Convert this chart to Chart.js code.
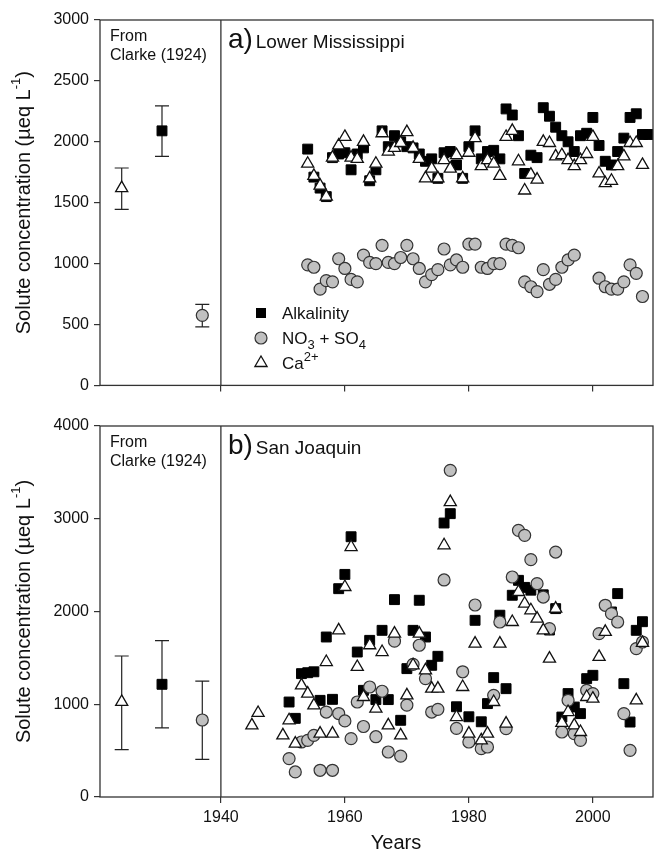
<!DOCTYPE html>
<html lang="en">
<head>
    <meta charset="UTF-8">
    <title>Solute concentration - Lower Mississippi and San Joaquin</title>
    <script src="https://cdn.jsdelivr.net/npm/chart.js"></script>
    <style>
        body {
            margin: 0;
            padding: 0;
            background-color: #fff;
        }

        .panel {
            position: absolute;
            left: 0;
        }

        #panelA { top: 0; }
        #panelB { top: 400px; }
    </style>
</head>
<body>

    <canvas id="panelA" class="panel" width="654" height="400"></canvas>
    <canvas id="panelB" class="panel" width="654" height="454"></canvas>

    <script>
        // ---- data, panel a (Lower Mississippi) ----
        const yearsA = [1954, 1955, 1956, 1957, 1958, 1959, 1960, 1961, 1962, 1963,
                        1964, 1965, 1966, 1967, 1968, 1969, 1970, 1971, 1972, 1973,
                        1974, 1975, 1976, 1977, 1978, 1979, 1980, 1981, 1982, 1983,
                        1984, 1985, 1986, 1987, 1988, 1989, 1990, 1991, 1992, 1993,
                        1994, 1995, 1996, 1997, 1998, 1999, 2000, 2001, 2002, 2003,
                        2004, 2005, 2006, 2007, 2008, 2009];
        const alkalinityA = [1940, 1710, 1620, 1550, 1870, 1900, 1910, 1770, 1900, 1950,
                             1680, 1770, 2090, 1960, 2050, 2000, 1960, 1950, 1900, 1840,
                             1860, 1700, 1910, 1920, 1810, 1700, 1960, 2090, 1860, 1920,
                             1930, 1860, 2270, 2220, 2050, 1740, 1890, 1870, 2280, 2210,
                             2120, 2050, 2000, 1920, 2050, 2070, 2200, 1970, 1840, 1810,
                             1920, 2030, 2200, 2230, 2060, 2060];
        const no3so4A = [990, 970, 790, 860, 850, 1040, 960, 870, 850, 1070,
                         1010, 1000, 1150, 1010, 1000, 1050, 1150, 1040, 960, 850,
                         910, 950, 1120, 990, 1030, 970, 1160, 1160, 970, 960,
                         1000, 1000, 1160, 1150, 1130, 850, 810, 770, 950, 830,
                         870, 970, 1030, 1070, null, null, null, 880, 810, 790,
                         790, 850, 990, 920, 730, null];
        const calciumA = [1820, 1720, 1640, 1550, 1870, 1970, 2040, 1870, 1860, 2000,
                          1700, 1820, 2070, 1920, 1950, 1990, 2080, 1950, 1860, 1700,
                          1780, 1700, 1850, 1780, 1890, 1700, 1910, 2030, 1800, 1850,
                          1820, 1720, 2040, 2090, 1840, 1600, 1730, 1690, 2000, 1990,
                          1880, 1890, 1850, 1800, 1850, 1900, 2040, 1740, 1660, 1680,
                          1800, 1880, 1990, 1990, 1810, null];

        // ---- data, panel b (San Joaquin) ----
        const yearsB = [1945, 1946, 1947, 1948, 1949, 1950, 1951, 1952, 1953, 1954,
                        1955, 1956, 1957, 1958, 1959, 1960, 1961, 1962, 1963, 1964,
                        1965, 1966, 1967, 1968, 1969, 1970, 1971, 1972, 1973, 1974,
                        1975, 1976, 1977, 1978, 1979, 1980, 1981, 1982, 1983, 1984,
                        1985, 1986, 1987, 1988, 1989, 1990, 1991, 1992, 1993, 1994,
                        1995, 1996, 1997, 1998, 1999, 2000, 2001, 2002, 2003, 2004,
                        2005, 2006, 2007, 2008, 2009];
        const alkalinityB = [null, null, null, null, null, null, 1024, 848, 1330, 1340,
                             1350, 1042, 1725, 1053, 2246, 2400, 2806, 1563, 1150, 1689,
                             1050, 1797, 1050, 2128, 827, 1384, 1797, 2121, 1725, 1420,
                             1517, 2954, 3055, 973, null, 865, 1905, 811, 1007, 1287,
                             1960, 1168, 2175, 2336, 2260, 2230, null, 2180, 1800, 2031,
                             862, 1115, 970, 899, 1276, 1312, null, null, 1995, 2193,
                             1222, 808, 1797, 1890, null];
        const no3so4B = [null, null, null, null, null, null, 414, 270, 593, 611,
                         665, 288, 916, 288, 900, 820, 629, 1024, 760, 1186,
                         650, 1140, 485, 1680, 440, 990, 1430, 1636, 1277, 916,
                         945, 2340, 3522, 740, 1350, 593, 2070, 521, 539, 1096,
                         1887, 737, 2372, 2875, 2821, 2559, 2300, 2156, 1815, 2641,
                         701, 1042, 683, 611, 1150, 1115, 1761, 2067, 1977, 1887,
                         899, 503, 1600, 1671, null];
        const calciumB = [773, 906, null, null, null, 665, 827, 576, 1204, 1115,
                          988, 683, 1455, 683, 1797, 2264, 2695, 1402, 1078, 1636,
                          953, 1563, 773, 1761, 665, 1096, 1420, 1761, 1366, 1168,
                          1168, 2714, 3180, 862, 1186, 683, 1654, 611, 683, 1024,
                          1654, 791, 1887, 2210, 2084, 2013, 1923, 1797, 1492, 2031,
                          800, 916, 773, 701, 1078, 1060, 1510, 1780, null, null,
                          null, null, 1042, 1661, null];

        // ---- Clarke (1924) means with ranges: order is Ca2+, Alkalinity, NO3+SO4 ----
        const clarkeX = [1924, 1930.5, 1937];
        const clarkeMeanA = [1620, 2090, 575];
        const clarkeLowA = [1445, 1880, 480];
        const clarkeHighA = [1785, 2295, 665];
        const clarkeMeanB = [1025, 1215, 830];
        const clarkeLowB = [510, 745, 405];
        const clarkeHighB = [1520, 1685, 1250];

        // ---- axes ----
        const xTickYears = [1940, 1960, 1980, 2000];
        const dividerYear = 1940;

        const FONT = "'Liberation Sans', Arial, sans-serif";
        Chart.defaults.font.family = FONT;
        Chart.defaults.color = '#111';

        function toPoints(years, values, extraX, extraY) {
            const pts = [];
            years.forEach((yr, i) => {
                if (values[i] !== null) pts.push({ x: yr, y: values[i] });
            });
            pts.push({ x: extraX, y: extraY });
            return pts;
        }

        // text with sub/superscripts: parts = [[text, size, dy], ...]
        function richWidth(ctx, parts) {
            let w = 0;
            parts.forEach(([t, size]) => {
                ctx.font = size + 'px ' + FONT;
                w += ctx.measureText(t).width;
            });
            return w;
        }

        function drawRich(ctx, parts, x, y) {
            let cx = x;
            parts.forEach(([t, size, dy]) => {
                ctx.font = size + 'px ' + FONT;
                ctx.fillText(t, cx, y + dy);
                cx += ctx.measureText(t).width;
            });
        }

        function drawMarker(ctx, kind, x, y) {
            ctx.beginPath();
            if (kind === 'rect') {
                ctx.rect(x - 5, y - 5, 10, 10);
                ctx.fillStyle = '#000';
                ctx.fill();
            } else if (kind === 'circle') {
                ctx.arc(x, y, 6, 0, Math.PI * 2);
                ctx.fillStyle = '#c0c0c0';
                ctx.fill();
                ctx.strokeStyle = '#333';
                ctx.lineWidth = 1.2;
                ctx.stroke();
            } else {
                ctx.moveTo(x, y - 7);
                ctx.lineTo(x + 6.1, y + 3.5);
                ctx.lineTo(x - 6.1, y + 3.5);
                ctx.closePath();
                ctx.fillStyle = '#fff';
                ctx.fill();
                ctx.strokeStyle = '#111';
                ctx.lineWidth = 1.3;
                ctx.stroke();
            }
        }

        function makeDecor(cfg) {
            return {
                id: 'panelDecor',
                beforeDatasetsDraw(chart) {
                    const { ctx, scales: { x, y } } = chart;
                    ctx.save();
                    ctx.strokeStyle = '#222';
                    ctx.lineWidth = 1.2;
                    cfg.mean.forEach((m, i) => {
                        const px = x.getPixelForValue(clarkeX[i]);
                        const top = y.getPixelForValue(cfg.high[i]);
                        const bot = y.getPixelForValue(cfg.low[i]);
                        ctx.beginPath();
                        ctx.moveTo(px, top); ctx.lineTo(px, bot);
                        ctx.moveTo(px - 7, top); ctx.lineTo(px + 7, top);
                        ctx.moveTo(px - 7, bot); ctx.lineTo(px + 7, bot);
                        ctx.stroke();
                    });
                    ctx.restore();
                },
                afterDraw(chart) {
                    const { ctx, chartArea: a, scales: { x } } = chart;
                    ctx.save();

                    // frame + divider
                    ctx.strokeStyle = '#333';
                    ctx.lineWidth = 1.3;
                    ctx.strokeRect(a.left, a.top, a.right - a.left, a.bottom - a.top);
                    const xd = x.getPixelForValue(dividerYear);
                    ctx.beginPath();
                    ctx.moveTo(xd, a.top);
                    ctx.lineTo(xd, a.bottom);
                    ctx.stroke();

                    ctx.fillStyle = '#111';
                    ctx.textBaseline = 'alphabetic';
                    ctx.textAlign = 'left';

                    // "From Clarke (1924)"
                    ctx.font = '16px ' + FONT;
                    ctx.fillText('From', a.left + 10, a.top + 21);
                    ctx.fillText('Clarke (1924)', a.left + 10, a.top + 40);

                    // panel label
                    ctx.font = '28px ' + FONT;
                    ctx.fillText(cfg.letter, xd + 7, a.top + 28);
                    const lw = ctx.measureText(cfg.letter).width;
                    ctx.font = '19px ' + FONT;
                    ctx.fillText(cfg.river, xd + 10 + lw, a.top + 28);

                    // y axis title
                    const title = [['Solute concentration (\u00b5eq L', 20, 0], ['-1', 13, -8], [')', 20, 0]];
                    ctx.save();
                    ctx.translate(24, (a.top + a.bottom) / 2);
                    ctx.rotate(-Math.PI / 2);
                    ctx.textBaseline = 'middle';
                    const tw = richWidth(ctx, title);
                    drawRich(ctx, title, -tw / 2, 0);
                    ctx.restore();

                    // legend (panel a only)
                    if (cfg.legend) {
                        const lx = 261, ly = a.top + 293;
                        const rows = [
                            ['rect', [['Alkalinity', 17, 0]]],
                            ['circle', [['NO', 17, 0], ['3', 13, 6], [' + SO', 17, 0], ['4', 13, 6]]],
                            ['triangle', [['Ca', 17, 0], ['2+', 13, -7]]]
                        ];
                        rows.forEach(([kind, parts], i) => {
                            const yy = ly + i * 25;
                            drawMarker(ctx, kind, lx, yy);
                            ctx.fillStyle = '#111';
                            ctx.textBaseline = 'middle';
                            drawRich(ctx, parts, lx + 21, yy + 1);
                        });
                    }

                    // x axis title (panel b only)
                    if (cfg.xTitle) {
                        ctx.fillStyle = '#111';
                        ctx.textBaseline = 'middle';
                        ctx.textAlign = 'center';
                        ctx.font = '20px ' + FONT;
                        ctx.fillText('Years', 396, a.bottom + 46);
                    }
                    ctx.restore();
                }
            };
        }

        function makeDatasets(years, alk, no3, ca, mean) {
            return [
                {
                    label: 'Ca2+',
                    data: toPoints(years, ca, clarkeX[0], mean[0]),
                    pointStyle: 'triangle',
                    pointRadius: 7,
                    backgroundColor: '#fff',
                    borderColor: '#111',
                    borderWidth: 1.3
                },
                {
                    label: 'NO3 + SO4',
                    data: toPoints(years, no3, clarkeX[2], mean[2]),
                    pointStyle: 'circle',
                    pointRadius: 6,
                    backgroundColor: '#c0c0c0',
                    borderColor: '#333',
                    borderWidth: 1.2
                },
                {
                    label: 'Alkalinity',
                    data: toPoints(years, alk, clarkeX[1], mean[1]),
                    pointStyle: 'rect',
                    pointRadius: 7,
                    backgroundColor: '#000',
                    borderColor: '#000',
                    borderWidth: 1
                }
            ];
        }

        function makeScales(yMax, yStep, showXLabels) {
            return {
                x: {
                    type: 'linear',
                    min: 1920.5,
                    max: 2009.7,
                    afterBuildTicks: s => { s.ticks = xTickYears.map(v => ({ value: v })); },
                    afterFit: s => { s.height = showXLabels ? 57 : 10; },
                    grid: { drawOnChartArea: false, tickLength: 6, color: '#333', lineWidth: 1.2 },
                    border: { display: false },
                    ticks: {
                        display: showXLabels,
                        font: { size: 16 },
                        color: '#111',
                        padding: 5,
                        maxRotation: 0,
                        callback: v => String(v)
                    }
                },
                y: {
                    min: 0,
                    max: yMax,
                    afterFit: s => { s.width = 100; },
                    grid: { drawOnChartArea: false, tickLength: 6, color: '#333', lineWidth: 1.2 },
                    border: { display: false },
                    ticks: {
                        stepSize: yStep,
                        font: { size: 16 },
                        color: '#111',
                        padding: 5,
                        callback: v => String(v)
                    }
                }
            };
        }

        function createPanel(canvasId, datasets, scales, padTop, decor) {
            const ctx = document.getElementById(canvasId).getContext('2d');
            return new Chart(ctx, {
                type: 'scatter',
                data: { datasets: datasets },
                options: {
                    responsive: false,
                    animation: false,
                    layout: {
                        autoPadding: false,
                        padding: { top: padTop, right: 1, left: 0, bottom: 0 }
                    },
                    plugins: {
                        legend: { display: false },
                        tooltip: { enabled: false }
                    },
                    scales: scales
                },
                plugins: [decor]
            });
        }

        createPanel('panelA',
            makeDatasets(yearsA, alkalinityA, no3so4A, calciumA, clarkeMeanA),
            makeScales(3000, 500, false), 20,
            makeDecor({ letter: 'a)', river: 'Lower Mississippi', mean: clarkeMeanA,
                        low: clarkeLowA, high: clarkeHighA, legend: true, xTitle: false }));

        createPanel('panelB',
            makeDatasets(yearsB, alkalinityB, no3so4B, calciumB, clarkeMeanB),
            makeScales(4000, 1000, true), 26,
            makeDecor({ letter: 'b)', river: 'San Joaquin', mean: clarkeMeanB,
                        low: clarkeLowB, high: clarkeHighB, legend: false, xTitle: true }));
    </script>
</body>
</html>
